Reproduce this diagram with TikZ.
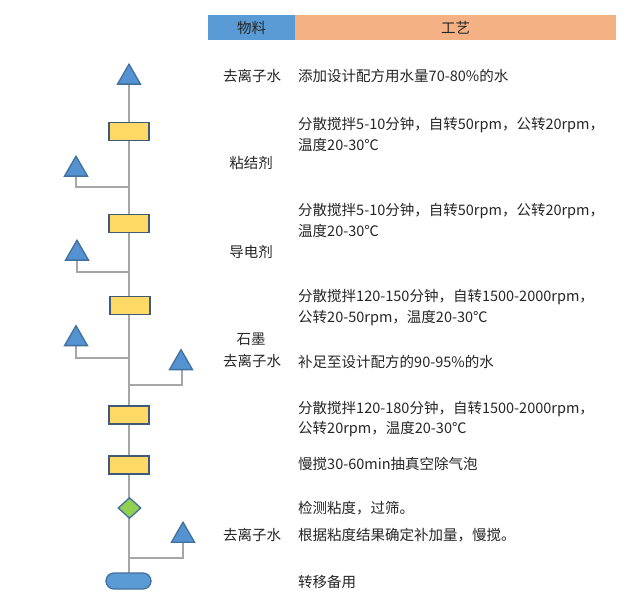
\documentclass[tikz,border=0pt]{standalone}
\usepackage{fontspec}
\newfontfamily\cjk{Noto Sans CJK SC}
\usetikzlibrary{shapes.geometric,shapes.misc}
\definecolor{hblue}{HTML}{5B9BD5}
\definecolor{horange}{HTML}{F4B183}
\definecolor{tfill}{HTML}{5592D2}
\definecolor{tline}{HTML}{41719C}
\definecolor{yfill}{HTML}{FFD966}
\definecolor{yline}{HTML}{3E5C7A}
\definecolor{gfill}{HTML}{92D050}
\definecolor{lgray}{HTML}{A6A6A6}
\definecolor{txt}{HTML}{262626}
\tikzset{
  tri/.style={regular polygon,regular polygon sides=3,minimum size=26.6pt,inner sep=0pt,fill=tfill,draw=tline,line width=1.3pt},
  box/.style={rectangle,minimum width=40pt,minimum height=18pt,inner sep=0pt,fill=yfill,draw=yline,line width=1.5pt},
  dia/.style={diamond,minimum width=23pt,minimum height=21pt,inner sep=0pt,fill=gfill,draw=tline,line width=1.3pt},
  term/.style={rounded rectangle,minimum width=45pt,minimum height=16pt,inner sep=0pt,fill=hblue,draw=tline,line width=1.3pt},
  conn/.style={draw=lgray,line width=2.2pt},
  lbl/.style={font=\cjk\fontsize{14.5}{17}\selectfont,text=txt,inner sep=0pt},
  desc/.style={lbl,anchor=west,align=left},
}
\begin{document}
\begin{tikzpicture}[x=1pt,y=-1pt]
\useasboundingbox (0,0) rectangle (637,601);
\fill[white] (0,0) rectangle (637,601);
% header
\node[fill=hblue,minimum width=87pt,minimum height=25pt,inner sep=0pt,anchor=north west,lbl] (h1) at (208,15) {物料};
\node[fill=horange,minimum width=321pt,minimum height=25pt,inner sep=0pt,anchor=north west,lbl] (h2) at (295,15) {工艺};
% junction coordinates
\coordinate (j1) at (129,187);
\coordinate (j2) at (129,272);
\coordinate (j3) at (129,358);
\coordinate (j4) at (129,385);
\coordinate (j5) at (129,558);
% main line (drawn first, below nodes)
\draw[conn] (129,78) -- (129,581);
% branches
\draw[conn] (76,169) |- (j1);
\draw[conn] (77,253) |- (j2);
\draw[conn] (76,339) |- (j3);
\draw[conn] (182,363) |- (j4);
\draw[conn] (183,535) |- (j5);
% shapes
\node[tri] (t0) at (129,77.5) {};
\node[box] (b1) at (129,131.5) {};
\node[tri] (l1) at (76,169.5) {};
\node[box] (b2) at (129,223.5) {};
\node[tri] (l2) at (77,253.5) {};
\node[box] (b3) at (130,305.5) {};
\node[tri] (l3) at (76,339) {};
\node[tri] (r1) at (181,363) {};
\node[box] (b4) at (129,415) {};
\node[box] (b5) at (129,465) {};
\node[dia] (d1) at (129.5,508) {};
\node[tri] (r2) at (183,535.5) {};
\node[term] (e1) at (128.5,581) {};
% left labels
\node[lbl] (m1) at (252,76) {去离子水};
\node[lbl] (m2) at (251,163) {粘结剂};
\node[lbl] (m3) at (251,252) {导电剂};
\node[lbl] (m4) at (251,339) {石墨};
\node[lbl] (m5) at (252,361) {去离子水};
\node[lbl] (m6) at (252,535) {去离子水};
% right descriptions
\node[desc] (p1) at (298,76) {添加设计配方用水量70-80\%的水};
\node[desc] (p2) at (298,125) {分散搅拌5-10分钟，自转50rpm，公转20rpm，};
\node[desc] (p2b) at (298,145) {温度20-30℃};
\node[desc] (p3) at (298,211) {分散搅拌5-10分钟，自转50rpm，公转20rpm，};
\node[desc] (p3b) at (298,231) {温度20-30℃};
\node[desc] (p4) at (298,297) {分散搅拌120-150分钟，自转1500-2000rpm，};
\node[desc] (p4b) at (298,318) {公转20-50rpm，温度20-30℃};
\node[desc] (p5) at (298,362) {补足至设计配方的90-95\%的水};
\node[desc] (p6) at (298,409) {分散搅拌120-180分钟，自转1500-2000rpm，};
\node[desc] (p6b) at (298,429) {公转20rpm，温度20-30℃};
\node[desc] (p7) at (298,464) {慢搅30-60min抽真空除气泡};
\node[desc] (p8) at (298,508) {检测粘度，过筛。};
\node[desc] (p9) at (298,535) {根据粘度结果确定补加量，慢搅。};
\node[desc] (p10) at (298,582) {转移备用};
\end{tikzpicture}
\end{document}
